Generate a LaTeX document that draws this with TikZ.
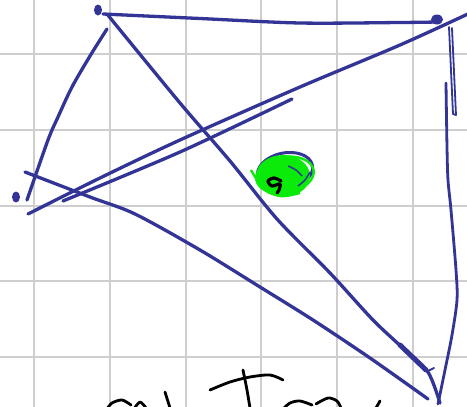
\documentclass[tikz,border=0pt]{standalone}
\definecolor{ink}{RGB}{50,52,150}
\definecolor{gridgray}{RGB}{206,206,206}
\definecolor{hilite}{RGB}{10,235,10}
\tikzset{
  gridline/.style={draw=gridgray,line width=2pt},
  inkline/.style={draw=ink,line width=3.3pt,line cap=round,line join=round},
  thinink/.style={draw=ink,line width=1.8pt,line cap=round,line join=round},
  pen/.style={draw=black,line width=2.8pt,line cap=round,line join=round},
}
\begin{document}
\begin{tikzpicture}[x=1pt,y=-1pt]
\useasboundingbox (0,0) rectangle (467,407);
\clip (0,0) rectangle (467,407);
\fill[white] (0,0) rectangle (467,407);
% grid
\foreach \gx in {34,110,185.5,261,337,412.5} \draw[gridline] (\gx,0) -- (\gx,407);
\foreach \gy in {54,130,205.5,281,356.5} \draw[gridline] (0,\gy) -- (467,\gy);
% top edge
\draw[inkline] plot[smooth] coordinates {(103,14) (200,18.5) (300,23) (400,22.5) (437,22)};
\fill[ink] (98,10) ellipse (4 and 5.5);
\fill[ink] (437,19.5) ellipse (6 and 5);
% diagonal from top-left corner to bottom right
\draw[inkline] plot[smooth] coordinates {(107,14) (180,103) (230,161) (277,219) (330,273) (373,320) (405,350) (428,372) (440,403)};
\draw[draw=ink,line width=5pt,line cap=round] (400,345) -- (426,370);
\draw[thinink] (428,371) -- (434,368);
% long diagonal to top right
\draw[inkline] plot[smooth] coordinates {(28,214) (100,178) (180,140) (300,87) (400,45) (470,13)};
% short parallel line
\draw[inkline] plot[smooth] coordinates {(63,201) (180,152) (292,99)};
% lower left to bottom right
\draw[inkline] plot[smooth] coordinates {(25,172) (90,197) (135,214) (200,250) (260,287) (313,320) (370,358) (428,399)};
% left arc
\draw[inkline] plot[smooth] coordinates {(107,29) (90,56) (72,87) (58,117) (48,140) (27,200)};
\fill[ink] (16,197) ellipse (4 and 5.5);
% right side
\draw[thinink] (449,27) -- (453,114) -- (456,115) -- (452,28);
\draw[inkline,line width=2.8pt] plot[smooth] coordinates {(446,83) (447,147) (448,180) (451,210) (456,270) (457,300) (452,335) (445,370) (438,404)};
% marked point
\draw[ink,line width=3pt,rotate around={12:(285,171)}] (285,171) ellipse (28 and 18);
\fill[hilite] (283,176) ellipse (27 and 21);
\draw[hilite,line width=2.4pt,rotate around={10:(285,175)}] (285,175) ellipse (29 and 18);
\draw[hilite,line width=2.4pt] plot[smooth] coordinates {(251,170) (262,186) (280,196) (300,193)};
\draw[ink,line width=1.5pt] plot[smooth] coordinates {(288,166) (296,170) (302,176)};
\draw[ink,line width=1.5pt] plot[smooth] coordinates {(298,186) (305,180) (310,172)};
\draw[pen,line width=3.2pt] plot[smooth] coordinates {(281,181) (274,178) (268,181) (272,186) (280,184) (279,190) (277,193)};
% handwriting at the bottom
\draw[pen] plot[smooth] coordinates {(107,409) (112,403) (122,400) (131,405)};
\draw[pen] plot[smooth] coordinates {(134,409) (140,402) (146,408)};
\draw[pen] (165,392) -- (170,408);
\draw[pen] plot[smooth] coordinates {(210,390) (230,382) (250,377) (270,375) (283,380)};
\draw[pen] plot[smooth] coordinates {(243,370) (247,390) (250,408)};
\draw[pen] plot[smooth] coordinates {(283,409) (290,403) (300,401) (312,405)};
\draw[pen] plot[smooth] coordinates {(316,404) (328,398) (337,401) (341,408)};
\draw[pen] (380,401) -- (376,408);
\end{tikzpicture}
\end{document}
